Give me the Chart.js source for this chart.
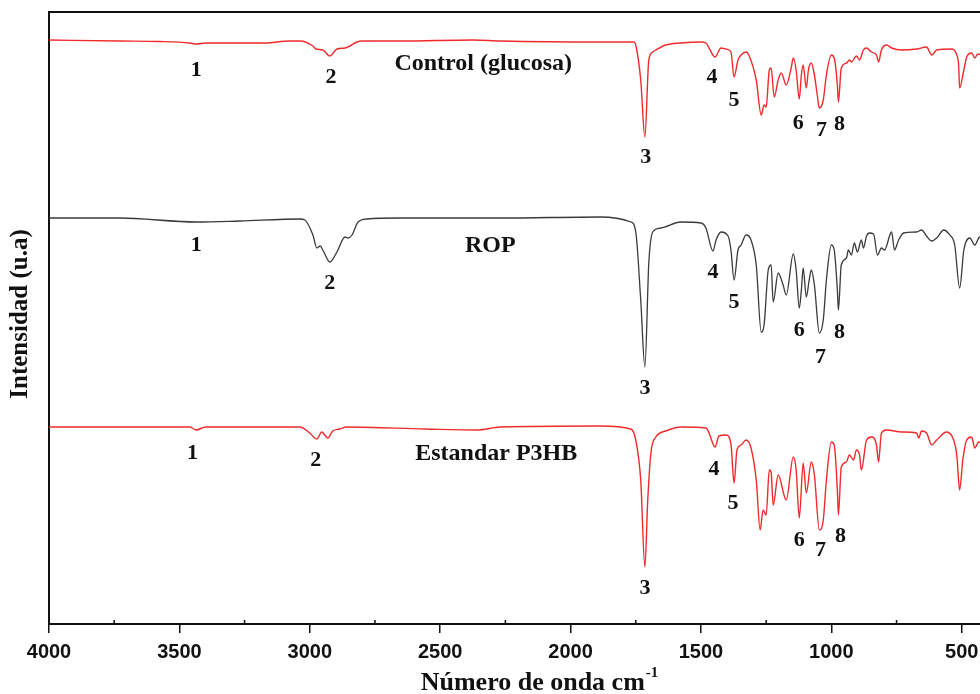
<!DOCTYPE html>
<html>
<head>
<meta charset="utf-8">
<script src="https://cdn.jsdelivr.net/npm/chart.js@4/dist/chart.umd.min.js"></script>
<style>
  html, body { margin: 0; padding: 0; background: #fff; }
  #wrap { width: 980px; height: 694px; position: relative; }
</style>
</head>
<body>
<div id="wrap"><canvas id="ftir"></canvas></div>
<script>
// wavenumbers (cm-1) and intensities (u.a, offset per spectrum)
const controlWn = [4000, 3731, 3577, 3460, 3435, 3400, 3173, 3077, 3038, 2988, 2977, 2950, 2923, 2896, 2865, 2846, 2819, 2800, 2654, 2373, 2269, 1885, 1769, 1758, 1750, 1731, 1715, 1700, 1685, 1673, 1635, 1577, 1500, 1481, 1469, 1446, 1423, 1404, 1385, 1373, 1358, 1346, 1327, 1315, 1288, 1269, 1258, 1250, 1238, 1231, 1219, 1204, 1192, 1173, 1154, 1146, 1135, 1123, 1115, 1108, 1096, 1088, 1077, 1065, 1054, 1046, 1031, 1019, 1000, 989, 977, 973, 962, 942, 931, 923, 904, 892, 877, 865, 846, 827, 819, 808, 788, 769, 731, 673, 635, 615, 596, 538, 519, 512, 508, 492, 481, 462, 450, 438, 423];
const controlVal = [584, 583, 582.5, 581, 580, 581, 581, 583, 583, 578, 575, 574, 568, 575, 576, 578, 582, 583, 583, 584, 583, 582, 582, 582, 579, 544, 487, 564, 572, 574, 579, 581, 582, 581, 576, 567, 576, 575, 572, 547, 564, 569, 572, 568, 544, 509, 519, 517, 554, 556, 527, 544, 551, 539, 556, 566, 554, 525, 549, 559, 536, 554, 561, 549, 529, 516, 524, 549, 569, 566, 539, 522, 556, 561, 564, 562, 568, 564, 574, 576, 572, 569, 562, 574, 579, 576, 574, 575, 577, 569, 574, 575, 569, 559, 536, 554, 567, 571, 566, 570, 569];

const ropWn = [4000, 3731, 3435, 3269, 3038, 3019, 2988, 2973, 2960, 2950, 2923, 2896, 2865, 2854, 2838, 2815, 2781, 2654, 2269, 1885, 1769, 1750, 1731, 1715, 1700, 1685, 1654, 1577, 1500, 1481, 1454, 1442, 1423, 1396, 1385, 1373, 1358, 1346, 1327, 1308, 1288, 1269, 1258, 1242, 1231, 1223, 1204, 1185, 1173, 1146, 1135, 1123, 1115, 1108, 1096, 1085, 1077, 1065, 1046, 1031, 1019, 1000, 989, 977, 973, 962, 942, 935, 923, 912, 900, 885, 877, 865, 854, 838, 823, 808, 796, 769, 758, 742, 723, 673, 654, 635, 615, 596, 569, 546, 527, 508, 492, 469, 450, 431, 423];
const ropVal = [406, 406, 402, 403, 405, 404, 389, 376, 378, 374, 362, 372, 387, 386, 389, 402, 405, 406, 406, 407, 402, 392, 324, 257, 361, 392, 396, 402, 401, 396, 373, 384, 392, 388, 374, 344, 374, 379, 389, 384, 359, 292, 299, 354, 359, 322, 351, 339, 329, 370, 354, 316, 334, 356, 327, 344, 354, 339, 291, 304, 344, 379, 374, 334, 314, 359, 366, 374, 369, 381, 372, 384, 376, 388, 391, 390, 369, 376, 374, 392, 374, 384, 391, 392, 394, 388, 383, 386, 394, 389, 379, 336, 374, 386, 379, 387, 384];

const p3hbWn = [4000, 3800, 3460, 3435, 3400, 3038, 3000, 2973, 2954, 2931, 2912, 2885, 2858, 2558, 2358, 2269, 1885, 1769, 1750, 1731, 1715, 1704, 1692, 1673, 1635, 1577, 1481, 1469, 1446, 1431, 1404, 1385, 1373, 1362, 1346, 1327, 1308, 1288, 1273, 1262, 1250, 1238, 1231, 1223, 1204, 1173, 1146, 1135, 1123, 1108, 1096, 1077, 1065, 1046, 1031, 1019, 1000, 989, 977, 973, 962, 942, 931, 915, 904, 892, 885, 865, 846, 827, 819, 808, 788, 731, 673, 665, 654, 635, 615, 596, 558, 531, 519, 508, 496, 481, 462, 450, 435, 423];
const p3hbVal = [197, 197, 197, 194, 197, 197, 191, 185, 192, 186, 193, 195, 197, 195, 194, 197, 198, 195, 184, 144, 57, 124, 171, 187, 193, 197, 196, 191, 177, 188, 189, 180, 141, 174, 179, 184, 176, 144, 94, 114, 109, 154, 152, 119, 149, 124, 167, 154, 106, 161, 131, 162, 149, 94, 104, 144, 182, 179, 134, 109, 157, 162, 169, 164, 174, 169, 154, 184, 187, 179, 162, 191, 194, 192, 191, 186, 193, 191, 179, 184, 192, 184, 169, 134, 164, 184, 187, 176, 182, 181];

const xTicks = [4000, 3500, 3000, 2500, 2000, 1500, 1000, 500];
const xMinorTicks = [3750, 3250, 2750, 2250, 1750, 1250, 750];

// peak numbers and trace names: [text, wavenumber, intensity]
const peakLabels = [
  ['1', 3435, 554], ['2', 2919, 547], ['Control (glucosa)', 2335, 560], ['3', 1712, 467],
  ['4', 1458, 547], ['5', 1373, 524], ['6', 1127, 501], ['7', 1038, 494], ['8', 969, 500],
  ['1', 3435, 379], ['2', 2923, 341], ['ROP', 2308, 378], ['3', 1715, 236],
  ['4', 1454, 352], ['5', 1373, 322], ['6', 1123, 294], ['7', 1042, 267], ['8', 969, 292],
  ['1', 3450, 171], ['2', 2977, 164], ['Estandar P3HB', 2285, 170], ['3', 1715, 36],
  ['4', 1450, 155], ['5', 1377, 121], ['6', 1123, 84], ['7', 1042, 74], ['8', 965, 88],
];

const serifBold = '"Liberation Serif", "Times New Roman", serif';

function toPoints(xs, ys) {
  return xs.map((x, i) => ({ x, y: ys[i] }));
}

const decorPlugin = {
  id: 'decor',
  afterDatasetsDraw(chart) {
    const { ctx, scales } = chart;
    const xs = scales.x, ys = scales.y;
    ctx.save();
    ctx.fillStyle = '#111';
    ctx.textAlign = 'center';
    ctx.textBaseline = 'middle';
    peakLabels.forEach(([text, wn, v]) => {
      ctx.font = 'bold ' + (text.length > 1 ? 24 : 22) + 'px ' + serifBold;
      ctx.fillText(text, xs.getPixelForValue(wn), ys.getPixelForValue(v));
    });
    ctx.restore();
  },
  afterDraw(chart) {
    const { ctx, chartArea, scales } = chart;
    ctx.save();
    ctx.strokeStyle = '#111';
    // top frame line
    ctx.lineWidth = 2;
    ctx.beginPath();
    ctx.moveTo(chartArea.left - 1, chartArea.top);
    ctx.lineTo(chartArea.right, chartArea.top);
    ctx.stroke();
    // minor ticks, pointing inward
    ctx.lineWidth = 1.5;
    xMinorTicks.forEach(v => {
      const px = scales.x.getPixelForValue(v);
      ctx.beginPath();
      ctx.moveTo(px, chartArea.bottom);
      ctx.lineTo(px, chartArea.bottom - 4);
      ctx.stroke();
    });
    // axis titles
    ctx.fillStyle = '#111';
    ctx.textBaseline = 'alphabetic';
    ctx.font = 'bold 26px ' + serifBold;
    const main = 'Número de onda cm';
    const sup = '-1';
    const mainW = ctx.measureText(main).width;
    ctx.font = 'bold 15px ' + serifBold;
    const supW = ctx.measureText(sup).width;
    const startX = 539 - (mainW + supW) / 2;
    ctx.font = 'bold 26px ' + serifBold;
    ctx.textAlign = 'left';
    ctx.fillText(main, startX, 690);
    ctx.font = 'bold 15px ' + serifBold;
    ctx.fillText(sup, startX + mainW + 1, 677);

    ctx.translate(21, 314);
    ctx.rotate(-Math.PI / 2);
    ctx.textAlign = 'center';
    ctx.textBaseline = 'middle';
    ctx.font = 'bold 25px ' + serifBold;
    ctx.fillText('Intensidad (u.a)', 0, 0);
    ctx.restore();
  },
};

function renderChart() {
  const canvas = document.getElementById('ftir');
  new Chart(canvas, {
    type: 'line',
    data: {
      datasets: [
        { label: 'Control (glucosa)', data: toPoints(controlWn, controlVal), borderColor: '#f02a2a', borderWidth: 1.4 },
        { label: 'ROP', data: toPoints(ropWn, ropVal), borderColor: '#3a3a3a', borderWidth: 1.3 },
        { label: 'Estandar P3HB', data: toPoints(p3hbWn, p3hbVal), borderColor: '#f02a2a', borderWidth: 1.4 },
      ],
    },
    options: {
      responsive: true,
      maintainAspectRatio: false,
      animation: false,
      parsing: false,
      elements: { point: { radius: 0 }, line: { cubicInterpolationMode: 'monotone' } },
      layout: { padding: { top: 12, right: 0, left: 0, bottom: 0 } },
      plugins: { legend: { display: false }, tooltip: { enabled: false } },
      scales: {
        x: {
          type: 'linear',
          reverse: true,
          min: 430,
          max: 4000,
          afterBuildTicks: scale => { scale.ticks = xTicks.map(v => ({ value: v })); },
          afterFit: scale => {
            scale.height = 70;
            scale.paddingLeft = 0;
            scale.paddingRight = 0;
          },
          ticks: {
            autoSkip: false,
            maxRotation: 0,
            padding: 7,
            color: '#111',
            font: { family: '"Liberation Sans", Arial, sans-serif', size: 20, weight: 'bold' },
            callback: v => String(v),
          },
          grid: { drawOnChartArea: false, tickLength: 9, color: '#111', lineWidth: 1.5 },
          border: { color: '#111', width: 2 },
        },
        y: {
          min: 0,
          max: 612,
          afterFit: scale => { scale.width = 49; },
          ticks: { display: false },
          grid: { display: false },
          border: { color: '#111', width: 2 },
        },
      },
    },
    plugins: [decorPlugin],
  });
}

renderChart();
</script>
</body>
</html>
